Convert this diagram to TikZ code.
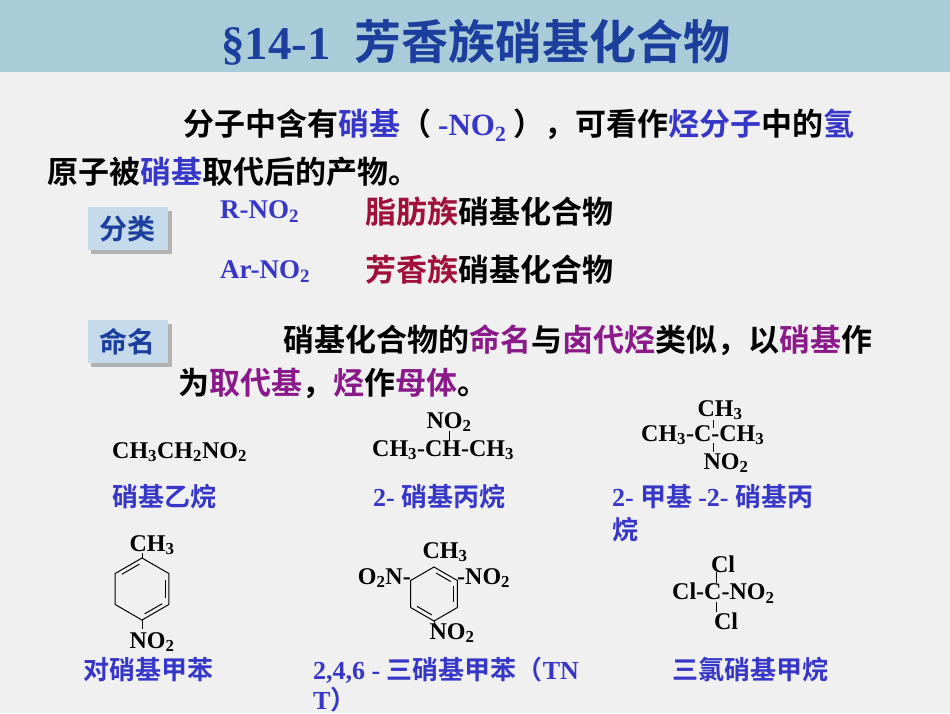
\documentclass[tikz,border=0pt]{standalone}
\usepackage{fontspec}
\setmainfont{Liberation Serif}
\newfontfamily\cjk{Noto Sans CJK SC}[BoldFont={* Bold}]
\definecolor{barc}{HTML}{A9CCD8}
\definecolor{bgc}{HTML}{F0F0F0}
\definecolor{titc}{HTML}{1C3E9C}
\definecolor{bl}{HTML}{3636C8}
\definecolor{pu}{HTML}{8A1A8A}
\definecolor{rd}{HTML}{A0103A}
\definecolor{boxc}{HTML}{C5DAEA}
\begin{document}
\begin{tikzpicture}[x=1pt,y=-1pt,
  txt/.style={anchor=west,inner sep=0pt,font=\fontsize{31}{34}\selectfont\cjk\bfseries},
  lab/.style={anchor=west,inner sep=0pt,text=bl,font=\fontsize{26}{28}\selectfont\cjk\bfseries},
  chem/.style={inner sep=0pt,font=\fontsize{24}{26}\selectfont\bfseries},
  tag/.style={draw=none,fill=boxc,minimum width=80pt,minimum height=43pt,text=titc,font=\fontsize{28}{30}\selectfont\cjk\bfseries},
  bond/.style={line width=1pt}]
\useasboundingbox (0,0) rectangle (950,713);
\fill[bgc] (0,0) rectangle (950,713);
\fill[barc] (0,0) rectangle (950,72);
\node[inner sep=0pt,text=titc] (title) at (476,42) {\fontsize{47}{50}\selectfont\bfseries §14-1\ \ \cjk 芳香族硝基化合物};
\node[txt] (l1) at (183,125) {分子中含有\textcolor{bl}{硝基}（ \textcolor{bl}{\rmfamily -NO\textsubscript{2}} ），可看作\textcolor{bl}{烃分子}中的\textcolor{bl}{氢}};
\node[txt] (l2) at (47,172) {原子被\textcolor{bl}{硝基}取代后的产物。};
% tags
\fill[gray!60] (91,211) rectangle (172,254);
\node[tag] (fl) at (127.5,228.5) {分类};
\fill[gray!60] (91,324) rectangle (172,367);
\node[tag] (mm) at (127.5,341.5) {命名};
\node[chem,anchor=west,text=bl,font=\fontsize{27}{29}\selectfont\bfseries] (r) at (220,212) {R-NO\textsubscript{2}};
\node[txt] (r2) at (365,212) {\textcolor{rd}{脂肪族}硝基化合物};
\node[chem,anchor=west,text=bl,font=\fontsize{27}{29}\selectfont\bfseries] (ar) at (220,272) {Ar-NO\textsubscript{2}};
\node[txt] (ar2) at (365,270) {\textcolor{rd}{芳香族}硝基化合物};
\node[txt] (m1) at (283,340) {硝基化合物的\textcolor{pu}{命名}与\textcolor{pu}{卤代烃}类似，以\textcolor{pu}{硝基}作};
\node[txt] (m2) at (178,383) {为\textcolor{pu}{取代基}，\textcolor{pu}{烃}作\textcolor{pu}{母体}。};
% formulas
\node[chem,anchor=west] (f1) at (112,452) {CH\textsubscript{3}CH\textsubscript{2}NO\textsubscript{2}};
\node[chem] (f2t) at (449,422) {NO\textsubscript{2}};
\node[chem,anchor=west] (f2) at (372,450) {CH\textsubscript{3}-CH-CH\textsubscript{3}};
\draw[bond] (449,431) -- (449,441);
\node[chem] (f3t) at (720,410) {CH\textsubscript{3}};
\node[chem,anchor=west] (f3) at (641,435) {CH\textsubscript{3}-C-CH\textsubscript{3}};
\node[chem] (f3b) at (726,463) {NO\textsubscript{2}};
\draw[bond] (713,420) -- (713,428);
\draw[bond] (713,443) -- (713,452);
\node[lab] (n1) at (112,497) {硝基乙烷};
\node[lab] (n2) at (373,497) {\rmfamily\bfseries 2- \cjk 硝基丙烷};
\node[lab] (n3) at (612,497) {\rmfamily\bfseries 2- \cjk 甲基 \rmfamily -2- \cjk 硝基丙};
\node[lab] (n3b) at (612,530) {烷};
% toluene
\begin{scope}[shift={(142,589)}]
\draw[bond] (90:31) -- (30:31) -- (-30:31) -- (-90:31) -- (-150:31) -- (150:31) -- cycle;
\draw[bond] (84:25) -- (36:25);
\draw[bond] (22:25) -- (-22:25);
\draw[bond] (-96:25) -- (-144:25);
\draw[bond] (0,-31) -- (0,-36);
\draw[bond] (0,31) -- (0,40);
\end{scope}
\node[chem] (t1) at (152,545) {CH\textsubscript{3}};
\node[chem] (t2) at (152,642) {NO\textsubscript{2}};
\node[lab] (n4) at (83,670) {对硝基甲苯};
% TNT
\begin{scope}[shift={(434,594)}]
\draw[bond] (90:27) -- (30:27) -- (-30:27) -- (-90:27) -- (-150:27) -- (150:27) -- cycle;
\draw[bond] (96:21) -- (144:21);
\draw[bond] (22:21) -- (-22:21);
\draw[bond] (-84:21) -- (-36:21);
\draw[bond] (0,27) -- (0,32);
\end{scope}
\node[chem] (c1) at (445,552) {CH\textsubscript{3}};
\node[chem,anchor=east] (c2) at (411,578) {O\textsubscript{2}N-};
\node[chem,anchor=west] (c3) at (457,578) {-NO\textsubscript{2}};
\node[chem] (c4) at (452,633) {NO\textsubscript{2}};
\node[lab] (n5) at (313,670) {\rmfamily\bfseries 2,4,6 - \cjk 三硝基甲苯（\rmfamily\bfseries TN};
\node[lab] (n5b) at (313,700) {\rmfamily\bfseries T\cjk ）};
% chloropicrin
\node[chem] (d1) at (723,564) {Cl};
\node[chem,anchor=west] (d2) at (672,593) {Cl-C-NO\textsubscript{2}};
\node[chem] (d3) at (726,621) {Cl};
\draw[bond] (716,572) -- (716,583);
\draw[bond] (716,602) -- (716,612);
\node[lab] (n6) at (672,670) {三氯硝基甲烷};
\end{tikzpicture}
\end{document}
